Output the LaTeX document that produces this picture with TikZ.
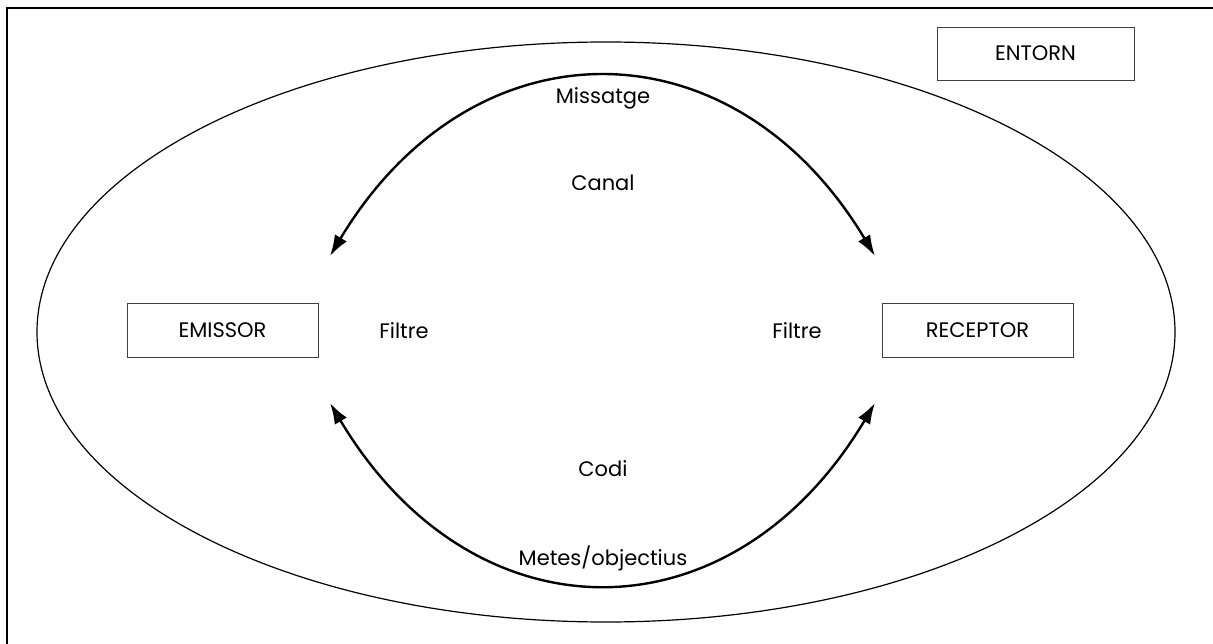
\documentclass[tikz,border=0pt]{standalone}
\usepackage{fontspec}
\setmainfont{Poppins}
\usetikzlibrary{arrows.meta}
\begin{document}
\begin{tikzpicture}[x=1pt,y=-1pt,
  txt/.style={font=\fontsize{21}{24}\selectfont},
  lbl/.style={txt, inner sep=0pt},
  box/.style={txt, draw=black!75, line width=0.9pt, minimum width=191pt, minimum height=54pt, inner sep=0pt},
  flow/.style={line width=2.4pt, {Latex[length=21pt,width=14pt]}-{Latex[length=21pt,width=14pt]}}]
\useasboundingbox (0,0) rectangle (1213,644);
\draw[line width=1.6pt] (7,644) -- (7,8) -- (1213,8);
\draw[line width=1.2pt] (606,332) ellipse [x radius=569, y radius=290];
\node[box] (emissor) at (222.5,330) {EMISSOR};
\node[box] (receptor) at (977.5,330) {RECEPTOR};
\node[box, minimum width=197pt, minimum height=53pt] (entorn) at (1035.5,53.5) {ENTORN};
\node[lbl] (missatge) at (603,98) {Missatge};
\node[lbl] (canal) at (603,183) {Canal};
\node[lbl] (filtreL) at (404,331) {Filtre};
\node[lbl] (filtreR) at (797,331) {Filtre};
\node[lbl] (codi) at (603,469) {Codi};
\node[lbl] (metes) at (603,558) {Metes/objectius};
\coordinate (tl) at (330,256);
\coordinate (tr) at (875,256);
\coordinate (bl) at (330,403);
\coordinate (br) at (875,403);
\draw[flow] (tl) .. controls (472,19) and (733,19) .. (tr);
\draw[flow] (bl) .. controls (473,643) and (732,643) .. (br);
\end{tikzpicture}
\end{document}
